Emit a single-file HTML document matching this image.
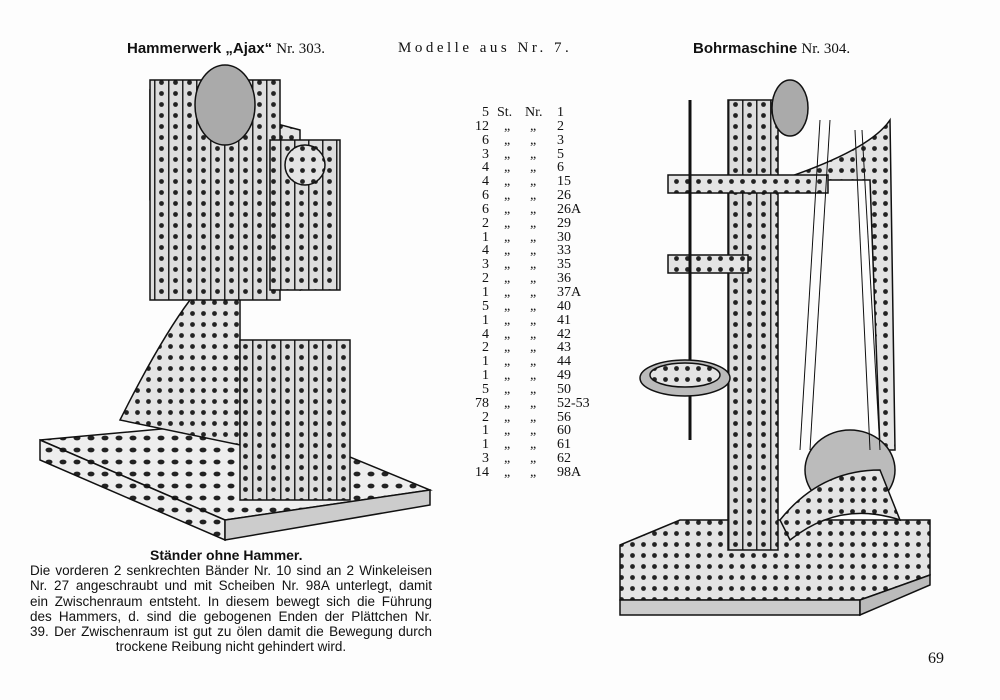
<!DOCTYPE html>
<html><head><meta charset="utf-8"><style>
body{margin:0;background:#fff;}
#p{position:relative;width:1000px;height:700px;overflow:hidden;background:#fdfdfd;font-family:"Liberation Serif",serif;color:#111;}
.t{position:absolute;white-space:nowrap;}
.list{position:absolute;left:460px;top:106px;width:140px;font-size:14px;line-height:13.85px;white-space:nowrap;}
.list div{position:relative;height:13.85px;}
.list span{position:absolute;top:0;}
.list .q{left:0;width:29px;text-align:right;}
.cap{position:absolute;left:30px;top:563px;width:402px;font-size:13.5px;line-height:15.3px;font-family:"Liberation Sans",sans-serif;}
.cap div{text-align:justify;text-align-last:justify;white-space:nowrap;}
</style></head><body><div id="p">
<svg width="1000" height="700" style="position:absolute;left:0;top:0">
<defs>
<pattern id="h" width="11" height="11" patternUnits="userSpaceOnUse"><rect width="11" height="11" fill="#e4e4e4"/><circle cx="5.5" cy="5.5" r="2.4" fill="#222"/></pattern>
<pattern id="hb" width="14" height="12" patternUnits="userSpaceOnUse"><rect width="14" height="12" fill="#eee"/><ellipse cx="7" cy="6" rx="3.5" ry="2.4" fill="#222"/></pattern>
<pattern id="v" width="14" height="11" patternUnits="userSpaceOnUse"><rect width="14" height="11" fill="#ddd"/><rect x="0" width="1.5" height="11" fill="#222"/><circle cx="7.5" cy="5.5" r="2.4" fill="#222"/></pattern>
</defs>
<g stroke="#111" stroke-width="1.5">
<polygon points="40,440 260,420 430,490 225,520" fill="url(#hb)"/>
<polygon points="40,440 225,520 225,540 40,460" fill="url(#hb)"/>
<polygon points="225,520 430,490 430,505 225,540" fill="#ccc"/>
<path d="M150,90 L150,200 Q200,260 190,300 Q160,340 120,420 L240,445 L240,300 Q250,280 280,285 L300,290 L300,130 Z" fill="url(#h)"/>
<rect x="150" y="80" width="130" height="220" fill="url(#v)"/>
<rect x="270" y="140" width="70" height="150" fill="url(#v)"/>
<rect x="240" y="340" width="110" height="160" fill="url(#v)"/>
<ellipse cx="225" cy="105" rx="30" ry="40" fill="#aaa"/>
<circle cx="305" cy="165" r="20" fill="url(#h)"/>
<polygon points="620,545 680,520 930,520 930,575 860,600 620,600" fill="url(#h)"/>
<polygon points="620,600 860,600 860,615 620,615" fill="#ccc"/>
<polygon points="860,600 930,575 930,585 860,615" fill="#bbb"/>
<rect x="728" y="100" width="50" height="450" fill="url(#v)"/>
<path d="M780,180 Q870,150 890,120 L895,450 L880,450 L870,180 Z" fill="url(#h)"/>
<rect x="668" y="175" width="160" height="18" fill="url(#h)"/>
<rect x="668" y="255" width="80" height="18" fill="url(#h)"/>
<line x1="690" y1="100" x2="690" y2="440" stroke-width="3"/>
<ellipse cx="685" cy="378" rx="45" ry="18" fill="#bbb"/>
<ellipse cx="685" cy="375" rx="35" ry="12" fill="url(#h)"/>
<ellipse cx="790" cy="108" rx="18" ry="28" fill="#aaa"/>
<ellipse cx="850" cy="470" rx="45" ry="40" fill="#bbb"/>
<path d="M780,520 Q820,470 880,470 L900,520 Q840,500 790,540 Z" fill="url(#h)"/>
<line x1="820" y1="120" x2="800" y2="450" stroke-width="1"/>
<line x1="830" y1="120" x2="810" y2="450" stroke-width="1"/>
<line x1="855" y1="130" x2="870" y2="450" stroke-width="1"/>
<line x1="862" y1="130" x2="880" y2="450" stroke-width="1"/>
</g>
</svg>
<div class="t" style="left:127px;top:40px;font-size:15px;font-family:'Liberation Sans',sans-serif;font-weight:bold">Hammerwerk „Ajax“ <span style="font-weight:normal;font-family:'Liberation Serif',serif">Nr. 303.</span></div>
<div class="t" style="left:398px;top:40px;font-size:15px;letter-spacing:3.5px">Modelle aus Nr. 7.</div>
<div class="t" style="left:693px;top:40px;font-size:15px;font-family:'Liberation Sans',sans-serif;font-weight:bold">Bohrmaschine <span style="font-weight:normal;font-family:'Liberation Serif',serif">Nr. 304.</span></div>
<div class="list">
<div><span class="q">5</span><span style="left:37px">St.</span><span style="left:65px">Nr.</span><span style="left:97px">1</span></div>
<div><span class="q">12</span><span style="left:44px">„</span><span style="left:70px">„</span><span style="left:97px">2</span></div>
<div><span class="q">6</span><span style="left:44px">„</span><span style="left:70px">„</span><span style="left:97px">3</span></div>
<div><span class="q">3</span><span style="left:44px">„</span><span style="left:70px">„</span><span style="left:97px">5</span></div>
<div><span class="q">4</span><span style="left:44px">„</span><span style="left:70px">„</span><span style="left:97px">6</span></div>
<div><span class="q">4</span><span style="left:44px">„</span><span style="left:70px">„</span><span style="left:97px">15</span></div>
<div><span class="q">6</span><span style="left:44px">„</span><span style="left:70px">„</span><span style="left:97px">26</span></div>
<div><span class="q">6</span><span style="left:44px">„</span><span style="left:70px">„</span><span style="left:97px">26A</span></div>
<div><span class="q">2</span><span style="left:44px">„</span><span style="left:70px">„</span><span style="left:97px">29</span></div>
<div><span class="q">1</span><span style="left:44px">„</span><span style="left:70px">„</span><span style="left:97px">30</span></div>
<div><span class="q">4</span><span style="left:44px">„</span><span style="left:70px">„</span><span style="left:97px">33</span></div>
<div><span class="q">3</span><span style="left:44px">„</span><span style="left:70px">„</span><span style="left:97px">35</span></div>
<div><span class="q">2</span><span style="left:44px">„</span><span style="left:70px">„</span><span style="left:97px">36</span></div>
<div><span class="q">1</span><span style="left:44px">„</span><span style="left:70px">„</span><span style="left:97px">37A</span></div>
<div><span class="q">5</span><span style="left:44px">„</span><span style="left:70px">„</span><span style="left:97px">40</span></div>
<div><span class="q">1</span><span style="left:44px">„</span><span style="left:70px">„</span><span style="left:97px">41</span></div>
<div><span class="q">4</span><span style="left:44px">„</span><span style="left:70px">„</span><span style="left:97px">42</span></div>
<div><span class="q">2</span><span style="left:44px">„</span><span style="left:70px">„</span><span style="left:97px">43</span></div>
<div><span class="q">1</span><span style="left:44px">„</span><span style="left:70px">„</span><span style="left:97px">44</span></div>
<div><span class="q">1</span><span style="left:44px">„</span><span style="left:70px">„</span><span style="left:97px">49</span></div>
<div><span class="q">5</span><span style="left:44px">„</span><span style="left:70px">„</span><span style="left:97px">50</span></div>
<div><span class="q">78</span><span style="left:44px">„</span><span style="left:70px">„</span><span style="left:97px">52-53</span></div>
<div><span class="q">2</span><span style="left:44px">„</span><span style="left:70px">„</span><span style="left:97px">56</span></div>
<div><span class="q">1</span><span style="left:44px">„</span><span style="left:70px">„</span><span style="left:97px">60</span></div>
<div><span class="q">1</span><span style="left:44px">„</span><span style="left:70px">„</span><span style="left:97px">61</span></div>
<div><span class="q">3</span><span style="left:44px">„</span><span style="left:70px">„</span><span style="left:97px">62</span></div>
<div><span class="q">14</span><span style="left:44px">„</span><span style="left:70px">„</span><span style="left:97px">98A</span></div>
</div>
<div class="t" style="left:150px;top:547px;font-size:14px;font-family:'Liberation Sans',sans-serif;font-weight:bold">Ständer ohne Hammer.</div>
<div class="cap">
<div>Die vorderen 2 senkrechten Bänder Nr. 10 sind an 2 Winkeleisen</div>
<div>Nr. 27 angeschraubt und mit Scheiben Nr. 98A unterlegt, damit</div>
<div>ein Zwischenraum entsteht. In diesem bewegt sich die Führung</div>
<div>des Hammers, d. sind die gebogenen Enden der Plättchen Nr.</div>
<div>39. Der Zwischenraum ist gut zu ölen damit die Bewegung durch</div>
<div style="text-align:center;text-align-last:center">trockene Reibung nicht gehindert wird.</div>
</div>
<div class="t" style="left:928px;top:650px;font-size:16px">69</div>
</div></body></html>
